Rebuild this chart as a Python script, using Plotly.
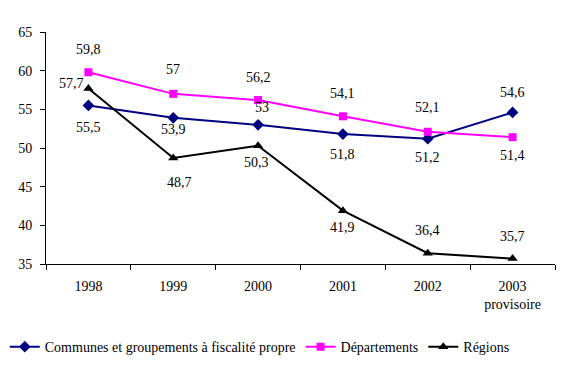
import plotly.graph_objects as go

years = ["1998", "1999", "2000", "2001", "2002", "2003"]
year_labels = ["1998", "1999", "2000", "2001", "2002", "2003<br>provisoire"]
communes = [55.5, 53.9, 53.0, 51.8, 51.2, 54.6]
departements = [59.8, 57.0, 56.2, 54.1, 52.1, 51.4]
regions = [57.7, 48.7, 50.3, 41.9, 36.4, 35.7]

names = ["Communes et groupements à fiscalité propre", "Départements", "Régions"]
colors = ["#000080", "#FF00FF", "#000000"]
symbols = ["diamond", "square", "triangle-up"]
sizes = [9, 8, 9]
series = [communes, departements, regions]

# label offsets (pixels) per series and point
offsets = [
    [(0, -22), (0, -12), (4, 17), (0, -20), (0, -19), (0, 20)],
    [(0, 23), (0, 24), (0, 23), (0, 23), (0, 24), (0, -18)],
    [(-17, 5), (6, -24), (-2, -17), (0, -17), (0, 23), (0, 22)],
]

FONT = "'Liberation Serif', 'Times New Roman', serif"
FS = 14

fig = go.Figure()
for name, vals, c, s, sz in zip(names, series, colors, symbols, sizes):
    fig.add_trace(go.Scatter(
        x=years, y=vals, name=name, mode="lines+markers",
        line=dict(color=c, width=2),
        marker=dict(symbol=s, size=sz, color=c),
    ))

for vals, offs in zip(series, offsets):
    for i, (v, (dx, dy)) in enumerate(zip(vals, offs)):
        txt = ("%g" % v).replace(".", ",")
        fig.add_annotation(
            x=i, y=v, xref="x", yref="y", text=txt, showarrow=False,
            xshift=dx, yshift=dy,
            font=dict(family=FONT, size=FS, color="black"),
        )

fig.update_layout(
    width=564, height=360,
    margin=dict(l=38, r=17, t=24, b=104, autoexpand=False),
    paper_bgcolor="white", plot_bgcolor="white",
    font=dict(family=FONT, size=FS, color="black"),
    showlegend=True,
    legend=dict(orientation="h", x=0.42, xanchor="center", y=-0.358, yanchor="middle",
                font=dict(family=FONT, size=FS), tracegroupgap=0, itemwidth=30),
)
fig.update_xaxes(
    type="category", range=[-0.5, 5.5], tickvals=years, ticktext=year_labels,
    tickson="boundaries", ticks="outside", ticklen=5, tickcolor="black",
    showline=True, linecolor="black", linewidth=1, showgrid=False, zeroline=False,
    tickfont=dict(family=FONT, size=FS), automargin=False, ticklabelstandoff=9,
)
fig.update_yaxes(
    range=[35, 65], dtick=5, ticks="outside", ticklen=5, tickcolor="black",
    showline=True, linecolor="black", linewidth=1, showgrid=False, zeroline=False,
    tickfont=dict(family=FONT, size=FS), automargin=False, ticklabelstandoff=5,
)

fig.write_html("out.html")
